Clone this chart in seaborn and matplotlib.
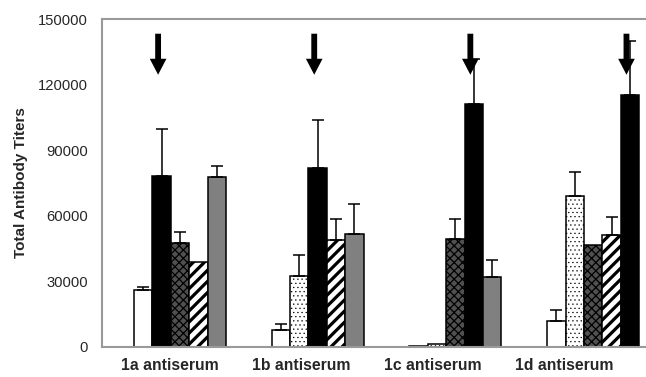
import numpy as np
import pandas as pd
import matplotlib
matplotlib.use("Agg")
import matplotlib.pyplot as plt
import seaborn as sns

groups = ["1a antiserum", "1b antiserum", "1c antiserum", "1d antiserum"]
antigens = ["control", "1a", "1b", "1c", "1d"]
# values per antigen (rows) for each antiserum group (columns)
val_control = [26000, 7600, 200, 11600]
val_1a = [78400, 32500, 1200, 68900]
val_1b = [47400, 81800, 49400, 46500]
val_1c = [38700, 48800, 111400, 51300]
val_1d = [77600, 51500, 31900, 115400]
err_control = [1200, 2700, 0, 5400]
err_1a = [21400, 9500, 0, 11200]
err_1b = [5300, 22100, 9100, 0]
err_1c = [0, 9700, 20500, 8000]
err_1d = [5400, 13900, 8000, 24700]
y_ticks = [0, 30000, 60000, 90000, 120000, 150000]

vals = [val_control, val_1a, val_1b, val_1c, val_1d]
errs = [err_control, err_1a, err_1b, err_1c, err_1d]
rows = []
for a, v, e in zip(antigens, vals, errs):
    for g, vv, ee in zip(groups, v, e):
        rows.append({"group": g, "antigen": a, "value": vv, "err": ee})
df = pd.DataFrame(rows)

sns.set_theme(style="white")
plt.rcParams["font.family"] = ["Liberation Sans", "DejaVu Sans"]
plt.rcParams["hatch.linewidth"] = 1.2

fig = plt.figure(figsize=(6.46, 3.77), dpi=100)
ax = fig.add_axes([102 / 646, 1 - 346.7 / 377, 1 - 102 / 646, (346.7 - 19.3) / 377])

styles = {
    "control": dict(facecolor="white", hatch=None, hcolor="black", hlw=1.0),
    "1a": dict(facecolor="white", hatch="....", hcolor="#333333", hlw=0.4),
    "1b": dict(facecolor="#505050", hatch="xxxx", hcolor="#cfcfcf", hlw=0.9),
    "1c": dict(facecolor="white", hatch="///", hcolor="black", hlw=2.3),
    "1d": dict(facecolor="#808080", hatch=None, hcolor="black", hlw=1.0),
}

sns.barplot(data=df, x="group", y="value", hue="antigen", order=groups,
            hue_order=antigens, errorbar=None, width=0.668, dodge=True,
            palette=["white"] * 5, edgecolor="black", linewidth=1.1,
            legend=False, ax=ax)

bar_containers = list(ax.containers)
for h, cont in enumerate(bar_containers):
    a = antigens[h]
    st = styles[a]
    xs, ys, es = [], [], []
    for g, bar in enumerate(cont.patches):
        if h == g + 1:
            bar.set_facecolor("black")
            bar.set_hatch(None)
        else:
            bar.set_facecolor(st["facecolor"])
            if st["hatch"]:
                bar.set_hatch(st["hatch"])
                if hasattr(bar, "set_hatchcolor"):
                    bar.set_hatchcolor(st["hcolor"])
                if hasattr(bar, "set_hatch_linewidth"):
                    bar.set_hatch_linewidth(st["hlw"])
                else:
                    bar._hatch_linewidth = st["hlw"]
        bar.set_edgecolor("black")
        xc = bar.get_x() + bar.get_width() / 2
        e = errs[h][g]
        if e > 0:
            xs.append(xc)
            ys.append(vals[h][g])
            es.append(e)
        if h == g + 1:
            ax.annotate("", xy=(xc - 0.025, 124600), xytext=(xc - 0.025, 143400),
                        arrowprops=dict(arrowstyle="simple,head_length=11.5,head_width=12,tail_width=4.2",
                                        mutation_scale=1, color="black", lw=0,
                                        shrinkA=0, shrinkB=0))
    if xs:
        ax.errorbar(xs, ys, yerr=[np.zeros(len(es)), es], fmt="none",
                    ecolor="black", elinewidth=1.1, capsize=4.3, capthick=1.1,
                    zorder=1)

ax.set_ylim(0, 150000)
ax.set_xlim(-0.566, 3.384)
ax.set_yticks(y_ticks)
ax.set_yticklabels([str(t) for t in y_ticks], fontsize=10.6)
label_pos = [-0.073, 0.879, 1.838, 2.789]
ax.set_xticks(label_pos)
ax.set_xticklabels(groups, fontsize=11.3, fontweight="bold")
ax.set_xticks([-0.559, 0.399, 1.358, 2.309], minor=True)
ax.tick_params(axis="x", which="major", length=0, pad=8)
ax.tick_params(axis="x", which="minor", length=4, width=1, color="#888888", direction="out")
ax.tick_params(axis="y", length=6, width=1, color="#888888", direction="out", pad=4)
ax.set_xlabel("")
ax.set_ylabel("Total Antibody Titers", fontsize=11, fontweight="bold", labelpad=7)
for s in ["left", "top", "bottom"]:
    ax.spines[s].set_color("#999999")
    ax.spines[s].set_linewidth(1.5)
ax.spines["right"].set_visible(False)
ax.grid(False)

fig.savefig("out.png", dpi=100)
